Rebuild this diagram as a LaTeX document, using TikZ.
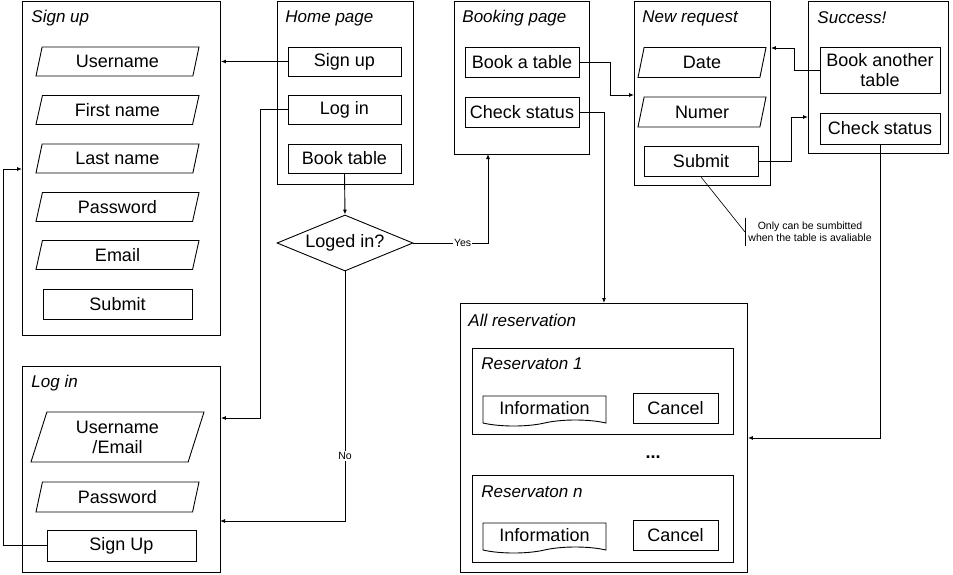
\documentclass[tikz,border=0pt]{standalone}
\usepackage{fontspec}
\setmainfont{Liberation Sans}
\usetikzlibrary{shapes.geometric,shapes.symbols,arrows.meta,positioning,calc}
\tikzset{
  every picture/.style={line width=0.9pt, x=1pt, y=-1pt},
  sframe/.style={draw, rectangle, anchor=north west, inner sep=0pt},
  stitle/.style={anchor=west, inner sep=0pt, font=\fontsize{17}{19}\selectfont\itshape},
  sbtn/.style={draw, rectangle, inner sep=0pt, minimum width=113pt, minimum height=29pt,
               font=\fontsize{18}{20}\selectfont},
  sinput/.style={draw, trapezium, trapezium left angle=64, trapezium right angle=116,
                 trapezium stretches body, inner sep=0pt, minimum width=163pt,
                 minimum height=29pt, font=\fontsize{18}{20}\selectfont},
  sdoc/.style={draw, tape, tape bend top=none, tape bend bottom=in and out,
               tape bend height=6pt, inner sep=0pt, minimum width=123pt,
               minimum height=30pt, font=\fontsize{18}{20}\selectfont},
  sdecide/.style={draw, diamond, aspect=2.43, inner sep=0pt, minimum width=136pt,
                  minimum height=56pt, font=\fontsize{18}{20}\selectfont},
  sarrow/.style={-{Latex[length=5pt,width=4pt]}},
  slabel/.style={fill=white, inner sep=1pt, font=\fontsize{10.5}{12}\selectfont},
  snote/.style={anchor=west, align=center, inner xsep=3pt, inner ysep=4pt,
                font=\fontsize{10.5}{12}\selectfont},
}

\begin{document}
\begin{tikzpicture}
  \useasboundingbox (0,0) rectangle (953,574);
  % screens
  \node[sframe, minimum width=198, minimum height=334] (signupF) at (22,1) {};
  \node[sframe, minimum width=136, minimum height=183] (homeF) at (277,1) {};
  \node[sframe, minimum width=135, minimum height=153] (bookF) at (454,1) {};
  \node[sframe, minimum width=136, minimum height=184] (newF) at (634,1) {};
  \node[sframe, minimum width=140, minimum height=152] (succF) at (808,1) {};
  \node[sframe, minimum width=198, minimum height=206] (loginF) at (22,366) {};
  \node[sframe, minimum width=287, minimum height=269] (allF) at (460,303) {};
  \node[sframe, minimum width=261, minimum height=86] (res1F) at (472,348) {};
  \node[sframe, minimum width=261, minimum height=87] (resnF) at (472,475) {};

  \node[stitle] (signupT) at (31,18) {Sign up};
  \node[stitle] (homeT) at (285,18) {Home page};
  \node[stitle] (bookT) at (462,18) {Booking page};
  \node[stitle] (newT) at (642,18) {New request};
  \node[stitle] (succT) at (817,18) {Success!};
  \node[stitle] (loginT) at (31,383) {Log in};
  \node[stitle] (allT) at (468,320) {All reservation};
  \node[stitle] (res1T) at (481,364) {Reservaton 1};
  \node[stitle] (resnT) at (481,492) {Reservaton n};

  % sign up
  \node[sinput] (suUser) at (117.5,61.5) {Username};
  \node[sinput] (suFirst) at (117.5,110) {First name};
  \node[sinput] (suLast) at (117.5,158.5) {Last name};
  \node[sinput] (suPass) at (117.5,207) {Password};
  \node[sinput] (suMail) at (117.5,255) {Email};
  \node[sbtn, minimum width=149, minimum height=30] (suSubmit) at (117.5,304) {Submit};

  % home page
  \node[sbtn] (hSign) at (344.5,61.5) {Sign up};
  \node[sbtn] (hLog) at (344.5,109.5) {Log in};
  \node[sbtn] (hBook) at (344.5,158.5) {Book table};
  \node[sdecide] (dia) at (345,243) {Loged in?};

  % log in
  \node[sinput, align=center, minimum width=173, minimum height=50] (liUser) at (117.5,437)
        {Username\\/Email};
  \node[sinput, minimum height=30] (liPass) at (117.5,497) {Password};
  \node[sbtn, minimum width=149, minimum height=31] (liSign) at (121.5,545.5) {Sign Up};

  % booking page
  \node[sbtn, minimum width=114, minimum height=30] (bBook) at (522,62.5) {Book a table};
  \node[sbtn, minimum width=114, minimum height=30] (bCheck) at (522,112) {Check status};

  % new request
  \node[sinput, minimum width=128, minimum height=30] (nDate) at (702,62.5) {Date};
  \node[sinput, minimum width=128, minimum height=30] (nNumer) at (702,112) {Numer};
  \node[sbtn, minimum width=114, minimum height=30] (nSubmit) at (701,161.5) {Submit};
  \node[snote] (note) at (745,232) {Only can be sumbitted\\when the table is avaliable};
  \draw (note.north west) -- (note.south west);
  \draw[line width=0.6pt] (nSubmit.south) -- (note.west);

  % success
  \node[sbtn, align=center, minimum width=120, minimum height=46] (sBook) at (880,70.5)
        {Book another\\table};
  \node[sbtn, minimum width=120, minimum height=31] (sCheck) at (880,128.5) {Check status};

  % reservations
  \node[sdoc] (info1) at (544.5,408) {Information};
  \node[sbtn, minimum width=85, minimum height=30] (cancel1) at (675.5,408) {Cancel};
  \node[font=\fontsize{18}{20}\selectfont\bfseries] (dots) at (653,457) {...};
  \node[sdoc] (infon) at (544.5,535) {Information};
  \node[sbtn, minimum width=85, minimum height=30] (canceln) at (675.5,535) {Cancel};

  % connectors
  \coordinate (lgBend) at (260,418);
  \coordinate (yesEnd) at (488,154);
  \coordinate (noEnd) at (220,521);
  \coordinate (bkBend) at (610,95);
  \coordinate (sbBend) at (791,117);
  \coordinate (baBend) at (794,48);
  \coordinate (lsBend) at (3,169);
  \draw[sarrow] (hSign.west) -- (hSign.west -| signupF.east);
  \draw[sarrow] (hLog.west) -| (lgBend) -- (lgBend -| loginF.east);
  \draw[sarrow] (hBook.south) -- (dia.north);
  \draw[sarrow] (dia.east) -| node[slabel, pos=0.33] {Yes} (yesEnd);
  \draw[sarrow] (dia.south) |- node[slabel, pos=0.37] {No} (noEnd);
  \draw[sarrow] (bBook.east) -| (bkBend) -- (bkBend -| newF.west);
  \draw[sarrow] (bCheck.east) -| (allF.north);
  \draw[sarrow] (nSubmit.east) -| (sbBend) -- (sbBend -| succF.west);
  \draw[sarrow] (sBook.west) -| (baBend) -- (baBend -| newF.east);
  \draw[sarrow] (sCheck.south) |- (allF.east);
  \draw[sarrow] (liSign.west) -| (lsBend) -- (lsBend -| signupF.west);
\end{tikzpicture}
\end{document}
